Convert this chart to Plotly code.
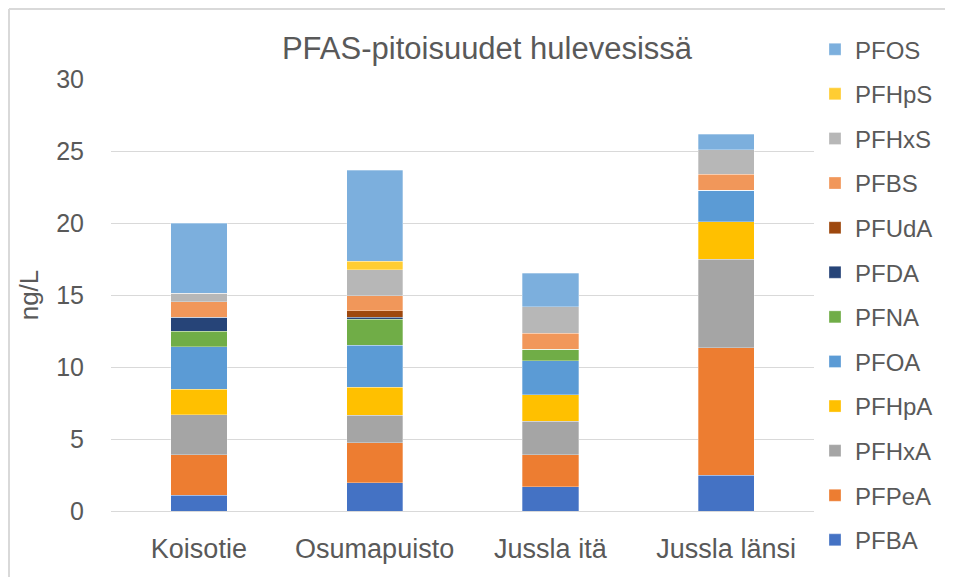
import plotly.graph_objects as go

categories = ["Koisotie", "Osumapuisto", "Jussla itä", "Jussla länsi"]

compounds = ["PFBA", "PFPeA", "PFHxA", "PFHpA", "PFOA", "PFNA", "PFDA", "PFUdA",
             "PFBS", "PFHxS", "PFHpS", "PFOS"]

PFBA  = [1.11, 1.97, 1.69, 2.50]
PFPeA = [2.78, 2.77, 2.22, 8.84]
PFHxA = [2.78, 1.91, 2.34, 6.14]
PFHpA = [1.80, 1.96, 1.81, 2.61]
PFOA  = [2.92, 2.90, 2.36, 2.20]
PFNA  = [1.11, 1.80, 0.81, 0.00]
PFDA  = [0.95, 0.16, 0.00, 0.00]
PFUdA = [0.00, 0.42, 0.00, 0.00]
PFBS  = [1.08, 1.06, 1.11, 1.11]
PFHxS = [0.59, 1.79, 1.83, 1.67]
PFHpS = [0.00, 0.62, 0.00, 0.00]
PFOS  = [4.86, 6.32, 2.33, 1.11]

values = [PFBA, PFPeA, PFHxA, PFHpA, PFOA, PFNA, PFDA, PFUdA, PFBS, PFHxS, PFHpS, PFOS]

colors = ["#4472C4", "#ED7D31", "#A5A5A5", "#FFC000", "#5B9BD5", "#70AD47",
          "#264478", "#9E480E", "#F1975A", "#B7B7B7", "#FFCD33", "#7CAFDD"]

fig = go.Figure()
for i, (name, vals, col) in enumerate(zip(compounds, values, colors)):
    fig.add_trace(go.Bar(
        x=categories, y=vals, name=name, legendgroup=name,
        legendrank=1000 - i,
        marker=dict(color=col, line=dict(color="rgba(255,255,255,0.6)", width=0.5)),
    ))

font_family = "Liberation Sans, Arial, sans-serif"
txt = "#595959"

W, H = 945, 569  # page body has an 8px margin
L, R, T, B = 103, 139, 71, 66
PW, PH = W - L - R, H - T - B

border = dict(color="#d9d9d9", width=2)
fig.update_layout(
    barmode="stack",
    bargap=0.68,
    width=W, height=H,
    margin=dict(l=L, r=R, t=T, b=B),
    paper_bgcolor="white", plot_bgcolor="white",
    font=dict(family=font_family, color=txt, size=24),
    title=dict(text="PFAS-pitoisuudet hulevesissä", x=(487 - 8) / W, xanchor="center",
               y=1 - 40 / H, yanchor="middle", yref="container",
               font=dict(size=31, color=txt, family=font_family)),
    xaxis=dict(showgrid=False, showline=True, linecolor="#d9d9d9", linewidth=1,
               ticks="", ticklabelstandoff=14, tickfont=dict(size=27, color=txt)),
    yaxis=dict(range=[0, 30], dtick=5, showgrid=True, gridcolor="#d9d9d9",
               gridwidth=1, zeroline=False, ticks="", ticklabelstandoff=26,
               tickfont=dict(size=25, color=txt),
               title=dict(text="ng/L", font=dict(size=26, color=txt), standoff=10)),
    legend=dict(traceorder="grouped", x=(807 - L) / PW, xanchor="left",
                y=1.12, yanchor="top", maxheight=600,
                font=dict(size=24, color=txt), tracegroupgap=10.4, bgcolor="rgba(0,0,0,0)"),
    shapes=[
        dict(type="line", xref="paper", yref="paper",
             x0=(1 - L) / PW, x1=(W - L) / PW, y0=1 + (T - 1) / PH, y1=1 + (T - 1) / PH,
             line=border, layer="below"),
        dict(type="line", xref="paper", yref="paper",
             x0=(1 - L) / PW, x1=(1 - L) / PW, y0=-B / PH, y1=1 + (T - 1) / PH,
             line=border, layer="below"),
    ],
)

fig.write_html("out.html")
